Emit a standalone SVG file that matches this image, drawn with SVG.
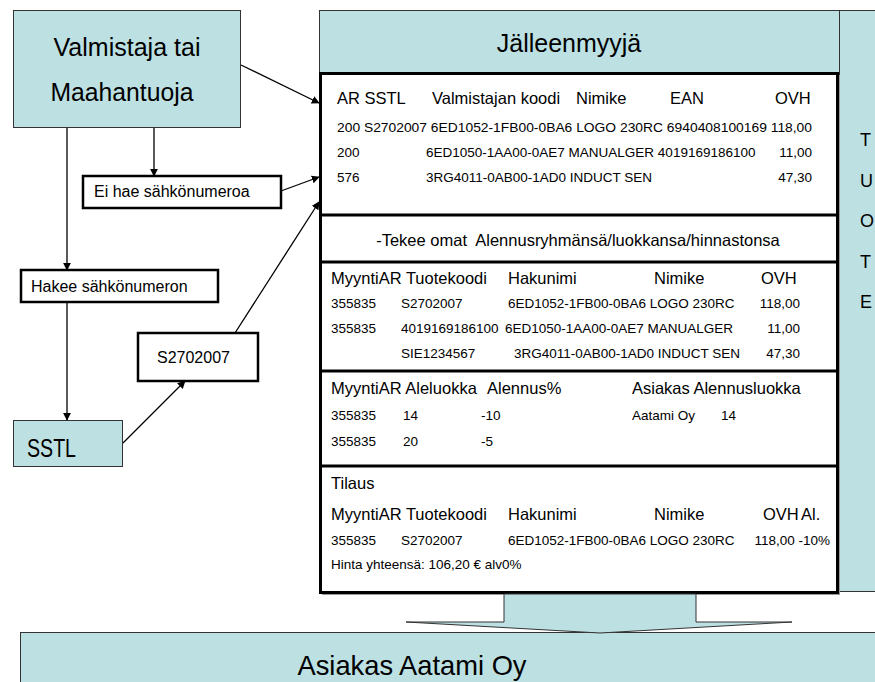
<svg xmlns="http://www.w3.org/2000/svg" width="875" height="682" viewBox="0 0 875 682">
  <defs>
    <marker id="arrow" viewBox="0 0 10 10" refX="9" refY="5" markerWidth="8" markerHeight="8" markerUnits="userSpaceOnUse" orient="auto">
      <path d="M0,0 L10,5 L0,10 z" fill="#000"/>
    </marker>
  </defs>
  <style>
    text { font-family: "Liberation Sans", Arial, sans-serif; fill: #000; white-space: pre; }
    .cyan { fill: #bde0e3; stroke: #333; stroke-width: 1; }
    .plain { fill: #fff; stroke: #000; stroke-width: 2.5; }
    .big { font-size: 26px; }
    .lbl { font-size: 16px; }
    .hd { font-size: 16.5px; }
    .row { font-size: 13.5px; }
    .conn { stroke: #000; stroke-width: 1.3; fill: none; marker-end: url(#arrow); }
    .sep { stroke: #000; stroke-width: 3; }
  </style>

  <rect width="875" height="682" fill="#fff"/>

  <!-- supplier -->
  <g id="valmistaja">
    <rect class="cyan" x="13.5" y="10.5" width="227" height="117"/>
    <text class="big" x="127" y="56" text-anchor="middle" textLength="147" lengthAdjust="spacingAndGlyphs">Valmistaja tai</text>
    <text class="big" x="122" y="101" text-anchor="middle" textLength="143" lengthAdjust="spacingAndGlyphs">Maahantuoja</text>
  </g>

  <g id="ei-hae">
    <rect class="plain" x="83" y="176" width="198" height="32"/>
    <text class="lbl" x="94" y="197">Ei hae sähkönumeroa</text>
  </g>

  <g id="hakee">
    <rect class="plain" x="21" y="270" width="197" height="32"/>
    <text class="lbl" x="31" y="292">Hakee sähkönumeron</text>
  </g>

  <g id="koodi">
    <rect class="plain" x="138" y="333" width="120" height="48"/>
    <text class="lbl" x="157" y="363">S2702007</text>
  </g>

  <g id="sstl">
    <rect class="cyan" x="13.5" y="420.5" width="109" height="46"/>
    <text x="27" y="457" font-size="25" textLength="49" lengthAdjust="spacingAndGlyphs">SSTL</text>
  </g>

  <!-- reseller -->
  <g id="tuote">
    <rect class="cyan" x="839.5" y="10.5" width="45" height="581"/>
    <text x="860" y="146" font-size="18">T</text>
    <text x="860" y="187" font-size="18">U</text>
    <text x="860" y="227" font-size="18">O</text>
    <text x="860" y="268" font-size="18">T</text>
    <text x="860" y="308" font-size="18">E</text>
  </g>

  <g id="jalleenmyyja">
    <rect class="cyan" x="319.5" y="10.5" width="520" height="62"/>
    <text x="569" y="52" font-size="25" text-anchor="middle">Jälleenmyyjä</text>
  </g>

  <g id="taulukko">
    <rect x="322" y="75" width="518" height="520" fill="#999"/>
    <rect x="320.5" y="73.5" width="517" height="519" fill="#fff" stroke="#000" stroke-width="3"/>
    <line class="sep" x1="320" y1="215" x2="838" y2="215"/>
    <line class="sep" x1="320" y1="262" x2="838" y2="262"/>
    <line class="sep" x1="320" y1="371" x2="838" y2="371"/>
    <line class="sep" x1="320" y1="466" x2="838" y2="466"/>

    <!-- product list from supplier -->
    <text class="hd" x="337" y="104">AR SSTL</text>
    <text class="hd" x="432" y="104">Valmistajan koodi</text>
    <text class="hd" x="576" y="104">Nimike</text>
    <text class="hd" x="670" y="104">EAN</text>
    <text class="hd" x="775" y="104">OVH</text>
    <text class="row" x="337" y="132" textLength="475" lengthAdjust="spacingAndGlyphs">200 S2702007 6ED1052-1FB00-0BA6 LOGO 230RC 6940408100169 118,00</text>
    <text class="row" x="337" y="157">200</text>
    <text class="row" x="426" y="157">6ED1050-1AA00-0AE7 MANUALGER 4019169186100</text>
    <text class="row" x="812" y="157" text-anchor="end">11,00</text>
    <text class="row" x="337" y="182">576</text>
    <text class="row" x="426" y="182">3RG4011-0AB00-1AD0 INDUCT SEN</text>
    <text class="row" x="812" y="182" text-anchor="end">47,30</text>

    <text class="hd" x="578" y="246" text-anchor="middle">-Tekee omat  Alennusryhmänsä/luokkansa/hinnastonsa</text>

    <!-- own price list -->
    <text class="hd" x="331" y="284">MyyntiAR Tuotekoodi</text>
    <text class="hd" x="508" y="284">Hakunimi</text>
    <text class="hd" x="654" y="284">Nimike</text>
    <text class="hd" x="761" y="284">OVH</text>
    <text class="row" x="331" y="308">355835</text>
    <text class="row" x="401" y="308">S2702007</text>
    <text class="row" x="508" y="308">6ED1052-1FB00-0BA6 LOGO 230RC</text>
    <text class="row" x="800" y="308" text-anchor="end">118,00</text>
    <text class="row" x="331" y="333">355835</text>
    <text class="row" x="401" y="333">4019169186100</text>
    <text class="row" x="505" y="333">6ED1050-1AA00-0AE7 MANUALGER</text>
    <text class="row" x="800" y="333" text-anchor="end">11,00</text>
    <text class="row" x="401" y="358">SIE1234567</text>
    <text class="row" x="514" y="358">3RG4011-0AB00-1AD0 INDUCT SEN</text>
    <text class="row" x="800" y="358" text-anchor="end">47,30</text>

    <!-- discount classes -->
    <text class="hd" x="331" y="394">MyyntiAR Aleluokka</text>
    <text class="hd" x="487" y="394">Alennus%</text>
    <text class="hd" x="632" y="394">Asiakas Alennusluokka</text>
    <text class="row" x="331" y="420">355835</text>
    <text class="row" x="403" y="420">14</text>
    <text class="row" x="481" y="420">-10</text>
    <text class="row" x="632" y="420">Aatami Oy</text>
    <text class="row" x="721" y="420">14</text>
    <text class="row" x="331" y="446">355835</text>
    <text class="row" x="403" y="446">20</text>
    <text class="row" x="481" y="446">-5</text>

    <!-- order -->
    <text class="hd" x="331" y="489">Tilaus</text>
    <text class="hd" x="331" y="520">MyyntiAR Tuotekoodi</text>
    <text class="hd" x="508" y="520">Hakunimi</text>
    <text class="hd" x="654" y="520">Nimike</text>
    <text class="hd" x="763" y="520">OVH</text>
    <text class="hd" x="801" y="520">Al.</text>
    <text class="row" x="331" y="545">355835</text>
    <text class="row" x="401" y="545">S2702007</text>
    <text class="row" x="508" y="545">6ED1052-1FB00-0BA6 LOGO 230RC</text>
    <text class="row" x="830" y="545" text-anchor="end">118,00 -10%</text>
    <text class="row" x="331" y="569">Hinta yhteensä: 106,20 € alv0%</text>
  </g>

  <!-- customer -->
  <g id="asiakas">
    <rect class="cyan" x="20.5" y="632.5" width="870" height="60"/>
    <text x="412" y="675" font-size="28" text-anchor="middle" textLength="229" lengthAdjust="spacingAndGlyphs">Asiakas Aatami Oy</text>
  </g>

  <g id="nuoli">
    <path class="cyan" d="M504,594 L696,594 L696,622 L792,622 L600,633 L406,622 L504,622 Z"/>
  </g>

  <g id="connectors">
    <line class="conn" x1="241" y1="65" x2="319" y2="103"/>
    <line class="conn" x1="154" y1="128" x2="154" y2="176"/>
    <line class="conn" x1="67" y1="128" x2="67" y2="270"/>
    <line class="conn" x1="281" y1="191" x2="319" y2="177"/>
    <line class="conn" x1="67" y1="302" x2="67" y2="420"/>
    <line class="conn" x1="123" y1="443" x2="185" y2="381"/>
    <line class="conn" x1="235" y1="333" x2="319" y2="202"/>
  </g>
</svg>
